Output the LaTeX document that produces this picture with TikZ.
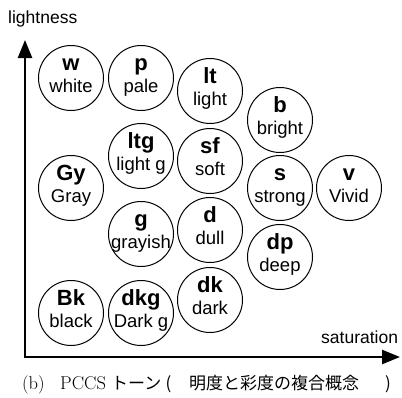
\documentclass[tikz,border=0pt]{standalone}
\usepackage{fontspec}
\newfontfamily\arial{Liberation Sans}
\newfontfamily\jpfont{Noto Sans CJK JP}
\usetikzlibrary{arrows.meta}

\tikzset{
  tone/.style={circle, draw, line width=1pt, minimum size=65pt, inner sep=0pt},
  abbr/.style={anchor=base, inner sep=0pt, font=\arial\bfseries\fontsize{22}{22}\selectfont},
  word/.style={anchor=base, inner sep=0pt, font=\arial\fontsize{18.5}{18.5}\selectfont},
  axis/.style={line width=2.5pt, line join=miter,
    {Triangle[length=18pt,width=14pt]}-{Triangle[length=18pt,width=14pt]}},
  axlabel/.style={anchor=base west, inner sep=0pt, font=\arial\fontsize{17.5}{17.5}\selectfont},
  caplatin/.style={anchor=base west, inner sep=0pt, font=\fontsize{18.5}{18.5}\selectfont},
  capjp/.style={inner sep=0pt, font=\jpfont\fontsize{17}{17}\selectfont},
}

% one PCCS tone: circle with abbreviation (bold) above the tone name
\newcommand\tonecircle[5]{%
  \node[tone] (#1) at (#2,#3) {};
  \node[abbr] (#1-abbr) at ([yshift=7.5pt]#1.center) {#4};
  \node[word] (#1-word) at ([yshift=-14.5pt]#1.center) {#5};
}

\begin{document}
\begin{tikzpicture}[x=1pt, y=-1pt]
\useasboundingbox (0,0) rectangle (402,397);

% axes
\coordinate (ytip) at (25,40);
\coordinate (origin) at (25,357);
\coordinate (xtip) at (400,357);
\draw[axis] (ytip) -- (origin) -- (xtip);
\node[axlabel] (ylabel) at (8,23) {lightness};
\node[axlabel] (xlabel) at (321,343) {saturation};

% tones
\tonecircle{w}{71}{78}{w}{white}
\tonecircle{p}{141}{78}{p}{pale}
\tonecircle{lt}{210}{91}{lt}{light}
\tonecircle{b}{280}{120}{b}{bright}
\tonecircle{ltg}{141}{156}{ltg}{light g}
\tonecircle{sf}{210}{161}{sf}{soft}
\tonecircle{Gy}{71}{188}{Gy}{Gray}
\tonecircle{s}{280}{188}{s}{strong}
\tonecircle{v}{349}{188}{v}{Vivid}
\tonecircle{g}{141}{234}{g}{grayish}
\tonecircle{d}{210}{230}{d}{dull}
\tonecircle{dp}{280}{257}{dp}{deep}
\tonecircle{dk}{210}{300}{dk}{dark}
\tonecircle{Bk}{71}{313}{Bk}{black}
\tonecircle{dkg}{141}{313}{dkg}{Dark g}

% caption
\node[caplatin] (capb) at (22,389) {(b)};
\node[caplatin] (cappccs) at (60,389) {PCCS};
\node[capjp, anchor=base west] (captone) at (111,389) {トーン};
\node[capjp, anchor=base] (capopen) at (168.5,389) {(};
\node[capjp, anchor=base west] (capdesc) at (189,389) {明度と彩度の複合概念};
\node[capjp, anchor=base] (capclose) at (388,389) {)};
\end{tikzpicture}
\end{document}
